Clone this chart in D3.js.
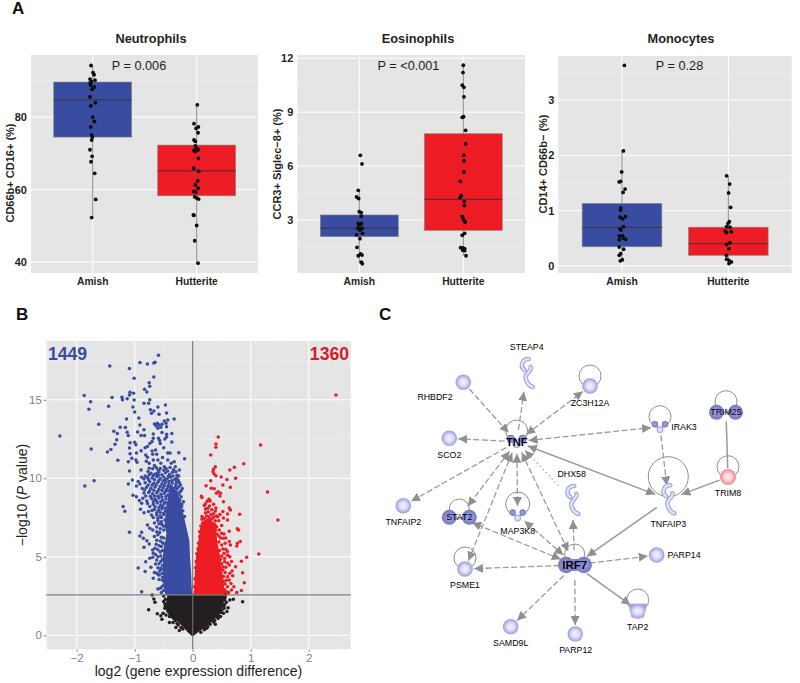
<!DOCTYPE html>
<html><head><meta charset="utf-8">
<script src="https://cdn.jsdelivr.net/npm/d3@7"></script>
<style>html,body{margin:0;padding:0;background:#fff}svg{display:block}text{font-family:"Liberation Sans",Arial,sans-serif}</style>
</head><body><svg id="c" width="800" height="683"></svg>
<script>
const groups = ["Amish","Hutterite"];
// [jitter in category units, percent]
const neutrophilsAmish = [[-.016,94.25],[.003,92.3],[.013,91.7],[-.026,90.5],[.022,90.2],[-.013,89.8],[-.026,89.4],[-.019,88.8],[.016,88.3],[-.006,87.7],[-.026,85.6],[.026,84],[-.019,83.1],[0,80],[.016,78.8],[-.019,77.3],[-.01,75.1],[-.003,74.5],[-.01,73.7],[-.026,71],[-.006,69.2],[-.016,67.7],[.019,64.5],[.029,57.3],[-.01,52.3]];
const neutrophilsHutterite = [[.006,83.4],[-.026,78.2],[.016,77.3],[-.006,76.9],[.013,75.7],[-.026,73.7],[-.013,73.3],[-.013,72.1],[0,71.4],[-.026,70.8],[.013,71],[-.013,70.5],[.016,68.6],[-.029,65.9],[.019,65.1],[.01,62.4],[-.013,61.3],[.013,60.4],[-.029,59.5],[-.01,59.3],[-.019,58],[0,57.7],[.019,57.4],[-.032,53],[-.026,52.9],[0,50.1],[-.019,45.9],[.013,39.7]];
const eosinophilsAmish = [[.01,6.6],[.026,6.12],[-.01,4.65],[-.026,4.28],[-.006,4.19],[0,3.46],[.019,3.41],[.019,3.22],[-.01,2.81],[.022,2.81],[0,2.72],[-.013,2.54],[.026,2.54],[.006,2.44],[.032,2.26],[-.026,2.17],[.006,1.96],[-.022,1.48],[-.01,1.01],[.013,1.11],[.026,1.05],[.019,.66],[.029,.57]];
const eosinophilsHutterite = [[0,11.61],[-.003,11.2],[-.01,10.5],[.006,10.38],[.006,9.85],[.003,8.75],[-.01,8.71],[.022,7.99],[.022,7.23],[.006,6.6],[.006,6.3],[.006,5.67],[-.029,5.15],[-.019,4.35],[-.032,4.24],[.01,4.04],[.01,3.8],[-.01,3.19],[0,3.06],[.013,2.93],[.019,2.89],[.013,2.26],[-.01,2.15],[-.026,1.46],[-.006,1.44],[.013,1.4],[-.006,1.33],[.013,1.29],[.026,1.01]];
const monocytesAmish = [[.022,3.63],[.013,2.08],[-.003,1.7],[-.026,1.52],[-.013,1.53],[.029,1.39],[.01,1.33],[-.013,1.05],[-.013,1.01],[.032,.89],[-.019,.88],[.006,.85],[.013,.71],[-.019,.67],[-.01,.65],[-.026,.54],[.006,.54],[.013,.5],[.035,.48],[-.026,.47],[-.026,.34],[.016,.3],[-.013,.22],[-.026,.19],[.003,.11],[-.016,.09]];
const monocytesHutterite = [[-.016,1.63],[.013,1.48],[.003,1.32],[.022,1.06],[.01,.8],[-.003,.77],[-.016,.71],[.016,.7],[-.029,.63],[.029,.62],[-.016,.6],[.016,.42],[-.016,.39],[.006,.31],[-.019,.19],[-.016,.12],[.006,.1],[.029,.07],[.006,.04]];
// [low whisker, q1, median, q3, high whisker]
const neutrophilsBoxes = [[52.3,74.5,84.8,89.7,94.25],[39.7,58.3,65.2,72.3,83.4]];
const eosinophilsBoxes = [[.57,2.07,2.54,3.28,4.65],[1.0,2.42,4.15,7.8,11.61]];
const monocytesBoxes = [[.09,.345,.695,1.13,2.08],[.04,.19,.40,.70,1.63]];
const neutrophilsTicks=[40,60,80], eosinophilsTicks=[3,6,9,12], monocytesTicks=[0,1,2,3];

// volcano: [log2 difference, -log10 P]
const downPoints = [[-.59,17.83],[-.91,17.37],[-.78,17.28],[-.67,17.35],[-.65,17.39],[-1.43,17.15],[-1.09,16.99],[-1.01,16.37],[-.67,16.45],[-.75,16.09],[-.74,15.86],[-.83,15.67],[-.79,15.5],[-1.08,15.48],[-1.02,15.41],[-1.09,15.31],[-1.87,15.27],[-1.76,14.88],[-1.79,14.4],[-1.45,14.59],[-1.39,15.14],[-1.22,15.16],[-1.21,15.01],[-1.13,15.07],[-1.01,14.99],[-.74,15.01],[-.76,14.78],[-.84,14.78],[-1.03,14.54],[-1,14.23],[-.6,14.54],[-.73,14.37],[-.67,14.29],[-.71,14.14],[-.47,14.67],[-.45,14.16],[-.58,14.08],[-1.14,13.78],[-.93,13.84],[-.32,13.78],[-.43,13.72],[-.49,13.65],[-1.62,13.44],[-1.25,13.25],[-1.16,13.23],[-.91,13.4],[-.84,13.1],[-.66,13.46],[-.61,13.5],[-.58,13.4],[-.53,13.44],[-.46,13.5],[-.45,13.29],[-.55,13.25],[-.63,13.33],[-.6,13.18],[-1.36,12.99],[-1.3,12.85],[-1.13,12.93],[-1.11,12.72],[-.95,12.95],[-.89,12.72],[-.83,12.72],[-.68,12.82],[-.53,12.91],[-.45,12.8],[-.36,12.85],[-2.29,12.7],[-1.31,12.46],[-1.34,12.17],[-1.08,12.27],[-1,12.29],[-.98,12.14],[-.7,12.34],[-.74,12.21],[-.68,12.55],[-.59,12.55],[-.57,12.4],[-.56,12.21],[-.48,12.51],[-.45,12.63],[-.36,12.31],[-.78,12.02],[-.82,11.95],[-1.75,11.87],[-1.41,11.83],[-1.47,11.68],[-1.09,11.93],[-1.08,11.57],[-.97,11.61],[-.89,11.76],[-.81,11.49],[-.7,11.74],[-.64,11.8],[-.69,11.53],[-.62,11.53],[-.5,11.95],[-.43,11.61],[-.39,11.61],[-.24,11.63],[-1.05,11.27],[-.98,11.17],[-.96,11.02],[-1.11,11.06],[-1.29,11.15],[-.14,11.25],[-.78,11.34],[-.8,11.08],[-.75,10.96],[-.89,10.53],[-1.09,10.47],[-.6,11.17],[-.52,11.32],[-.68,11.17],[-.43,11.17],[-.32,11.06],[-.37,10.96],[-.55,10.96],[-.66,10.81],[-.49,10.74],[-.39,10.68],[-.3,10.74],[-.6,10.53],[-.43,10.47],[-.75,10.64],[-.23,10.53],
[-1.70,9.85],[-1.86,9.51],[-1.04,9.89],[-1.11,9.64],[-1.03,8.92],[-.94,9.79],[-.97,9.51],[-.88,10.06],[-.82,10.15],[-.91,9.64],[-.97,8.83],[-.92,8.58],[-.86,8.73],[-.88,8.41],[-1.2,8.2],[-1.17,7.9],[-.9,8.03],[-.84,7.81],[-.76,7.88],[-.71,7.66],[-1.09,6.56],[-.88,6.56],[-.91,6.33],[-.78,7.03],[-.74,6.82],[-.69,6.71],[-.85,6.18],[-.79,6.03],[-.84,5.61],[-.75,5.82],[-.69,5.44],[-.65,5.54],[-.68,5.22],[-.81,4.69],[-.74,4.9],[-.69,4.97],[-.94,4.29],[-.82,4.06],[-.72,4.33],[-.64,4.54],[-.62,3.95],[-.68,3.63],[-.59,3.84],[-.53,3.1],[-.88,2.78],[-.49,3.42],[-.55,4.27],
[-.72,10.32],[-.65,10.28],[-.58,10.41],[-.53,10.22],[-.47,10.35],[-.4,10.25],[-.35,10.38],[-.27,10.2],[-.78,10.05],[-.7,10.02],[-.62,10.1],[-.56,9.98],[-.5,10.08],[-.44,9.95],[-.38,10.06],[-.31,9.92],[-.25,9.88],[-.82,9.72],[-.74,9.78],[-.67,9.69],[-.6,9.75],[-.53,9.66],[-.47,9.74],[-.41,9.62],[-.35,9.7],[-.29,9.6],[-.21,9.58],[-.8,9.41],[-.72,9.36],[-.65,9.45],[-.58,9.32],[-.51,9.4],[-.45,9.3],[-.39,9.38],[-.33,9.27],[-.27,9.33],[-.2,9.2],[-.84,9.06],[-.76,9.1],[-.69,9.01],[-.62,9.08],[-.55,8.98],[-.49,9.05],[-.42,8.95],[-.36,9.02],[-.3,8.92],[-.24,8.98],[-.71,8.72],[-.65,8.66],[-.58,8.75],[-.52,8.62],[-.46,8.7],[-.4,8.6],[-.34,8.68],[-.28,8.58],[-.22,8.64],[-.16,8.5],[-.78,8.4],[-.68,8.35],[-.61,8.42],[-.55,8.3],[-.49,8.38],[-.43,8.26],[-.37,8.34],[-.31,8.24],[-.25,8.3],[-.19,8.2],[-.66,8.02],[-.59,7.96],[-.53,8.05],[-.47,7.92],[-.41,8],[-.35,7.9],[-.29,7.98],[-.23,7.88],[-.17,7.94],[-.62,7.66],[-.56,7.6],[-.5,7.7],[-.44,7.56],[-.38,7.64],[-.32,7.54],[-.26,7.62],[-.2,7.52],[-.14,7.56],[-.6,7.3],[-.54,7.24],[-.48,7.34],[-.62,6.9],[-.56,6.78],[-.5,6.95],[-.6,6.4],[-.54,6.25],[-.52,5.9],[-.58,5.7],[-.56,5.3],[-.6,5],[-.55,4.7],[-.57,4.1],[-.52,3.7],
[-.77,10.44],[-.69,10.61],[-.63,10.68],[-.56,10.62],[-.5,10.51],[-.46,10.63],[-.33,10.55],[-.29,10.42],[-.24,10.15],[-.61,10.3],[-.68,10.18],[-.75,10.22],[-.84,9.95],[-.59,10.2],[-.51,9.85],[-.42,10.12],[-.34,10.14],[-.28,10],[-.76,9.9],[-.66,9.9],[-.58,9.88],[-.47,9.92],[-.41,9.8],[-.36,9.85],[-.28,9.76],[-.23,9.72],[-.87,9.35],[-.77,9.55],[-.7,9.58],[-.63,9.57],[-.56,9.5],[-.49,9.54],[-.43,9.48],[-.37,9.5],[-.3,9.44],[-.24,9.46],[-.18,9.35],[-.83,9.25],[-.74,9.2],[-.67,9.24],[-.6,9.18],[-.53,9.22],[-.47,9.16],[-.42,9.2],[-.35,9.16],[-.28,9.12],[-.22,9.12],[-.81,8.88],[-.73,8.85],[-.66,8.88],[-.6,8.85],[-.53,8.82],[-.46,8.86],[-.39,8.8],[-.33,8.85],[-.26,8.78],[-.2,8.82],[-.79,8.55],[-.68,8.5],[-.62,8.55],[-.55,8.5],[-.48,8.48],[-.43,8.45],[-.25,8.42],[-.19,8.35],[-.74,8.2],[-.65,8.18],[-.58,8.15],[-.52,8.2],[-.47,8.1],[-.7,7.95],[-.62,7.8],[-.56,7.82],[-.5,7.78],[-.68,7.5],[-.6,7.45],[-.54,7.5],[-.66,7.15],[-.58,7.1],[-.53,7.05],
[-.62,6.6],[-.57,6.55],[-.5,6.7],[-.66,6.3],[-.5,6.2],[-.62,6.05],[-.56,6],[-.5,5.85],[-.63,5.8],[-.54,5.65],[-.6,5.45],[-.52,5.4],[-.64,5.15],[-.55,5.05],[-.52,4.85],[-.62,4.8],[-.58,4.55],[-.52,4.45],[-.6,4.3],[-.54,4.2],[-.52,3.95],[-.57,3.85],[-.66,4],[-.52,3.5],[-.58,3.55],[-.5,3.2],[-.56,3],[-.5,2.85],[-.54,2.72],[-.6,2.95]];
const upPoints = [[2.47,15.3],[.44,12.63],[.4,12.19],[.4,11.97],[.31,11.49],[1.17,12.12],[.39,10.74],[.36,10.57],[.35,10.42],[.37,10.28],[.4,10.17],[.72,10.7],[.64,10.53],[.88,10.93],[.49,10.08],[.59,9.92],[.74,10],[.31,9.85],[.23,9.53],[.52,9.58],[.65,9.43],[.32,9.36],[.37,9.34],[.44,9.15],[.48,9.04],[.41,9.04],[.47,8.87],[1.29,9.13],[.15,8.85],[.16,8.77],[.53,8.51],[.28,8.66],[.25,8.54],[.3,8.56],[.22,8.37],[.2,8.28],[.29,8.24],[.4,8.11],[.63,8.11],[.65,7.98],[.52,7.88],[.39,7.92],[.6,7.73],[.81,7.71],[.41,7.6],[.53,7.47],[.16,7.56],[.16,7.39],[1.47,7.35],[.6,7.35],[.36,7.52],[.3,7.39],[.25,7.35],[.39,7.3],[.21,7.24],[.34,7.13],[.14,6.96],[.21,7.03],[.41,6.92],[.77,6.79],[.79,6.71],[.5,6.5],[.54,6.45],[.63,6.62],[.45,6.33],[.82,5.97],[.77,5.86],[.76,5.69],[.63,5.97],[.53,6.18],[.56,5.86],[.1,5.86],[.65,5.75],[.6,5.33],[1.14,5.18],[.93,4.97],[.84,4.71],[.64,5.01],[.57,5.48],[.74,4.37],[.63,4.48],[.57,4.33],[.86,3.99],[.69,3.8],[.63,3.52],[.89,3.35],[.71,3.1],[.84,2.85],[.67,2.89],[.6,3.1],[.56,3.27],[.53,3.74],[.64,3.95],[.52,4.16],[.55,4.69],[.5,5.05],[.54,5.22],[.58,2.78],[.76,2.72],
[.48,3],[.55,2.9],[.62,2.72],[.5,3.3],[.58,3.5],[.66,3.3],[.53,3.45],[.6,3.75],[.68,4.1],[.56,4],[.52,4.35],[.6,4.6],[.67,4.7],[.5,4.55],[.55,4.9],[.6,5.1],[.48,4.85],[.52,5.5],[.46,5.4],[.5,5.75],[.45,5.95],[.48,6.2],[.57,6.2],[.42,6.45],[.46,6.7],[.4,6.7],[.38,7.05],[.33,7.4],[.28,7.55],[.24,7.6],[.2,7.45],[.32,7.7],[.27,7.85],[.36,7.75],[.22,7.8],[.45,7.3],[.5,7],[.43,7.55],[.33,8],[.26,8.1],[.22,8.05],[.36,8.35],[.47,7.7],[.12,6.3],[.09,5.5],[.07,5.2],[.06,4.7],[.05,4.3],[.04,3.6],[.03,3.1],[.12,6.6],[.17,7.15],[.13,6.1]];
const nsPoints = [[-.7,2.57],[-.67,2.31],[-.65,2.1],[-.76,1.63],[-.61,1.38],[-.55,1.25],[-.53,1.02],[-.51,1.4],[-.46,1.3],[-.42,1.51],[-.4,.81],[-.34,.81],[-.29,.49],[-.23,.3],[-.48,1.72],[-.44,1.97],[-.4,1.19],[-.33,1.08],[.56,2.57],[.64,2.25],[.7,2.29],[.86,2.14],[.61,1.76],[.59,1.51],[.54,1.72],[.53,1.4],[.48,1.19],[.44,1.08],[.39,.7],[.24,.45],[.5,2.04],[.55,2.25],[.46,1.51],
[-.5,2.5],[-.47,2.3],[-.5,2.15],[-.48,2],[-.47,1.85],[-.44,1.75],[-.43,1.6],[-.4,1.45],[-.39,1.33],[-.36,1.2],[-.34,1.25],[-.3,.95],[-.27,.75],[-.25,.65],[-.2,.5],[-.17,.4],[.56,2.4],[.58,2.1],[.55,1.95],[.53,1.85],[.5,1.6],[.48,1.45],[.44,1.3],[.42,1.15],[.38,.95],[.36,.85],[.3,.7],[.26,.55],[.2,.35],[.14,.2]];
// dense cores of the volcano, traced as [-log10 P, left edge, right edge]
const downCore = [[2.6,-.46,-.02],[3,-.48,-.03],[4,-.5,-.04],[5,-.5,-.06],[5.5,-.49,-.065],[6,-.46,-.07],[6.5,-.44,-.1],[7,-.47,-.13],[7.5,-.46,-.16],[8,-.44,-.19],[8.5,-.42,-.22],[9,-.4,-.28],[9.4,-.37,-.32]];
const upCore = [[2.6,.03,.61],[3,.04,.53],[4,.05,.5],[5,.07,.46],[6,.115,.41],[6.8,.14,.385],[7.3,.21,.31]];
const nsCore = [[0,-.01,.01],[.25,-.08,.09],[.5,-.14,.2],[1,-.28,.36],[1.5,-.4,.46],[2,-.45,.52],[2.6,-.42,.53]];
const volcanoXTicks=[-2,-1,0,1,2], volcanoYTicks=[0,5,10,15];
const volcanoCounts=["1449","1360"];
const pCut=2.57;

// network
const geneNames=["RHBDF2","STEAP4","ZC3H12A","TNF","SCO2","TNFAIP2","STAT2","MAP3K8","IRF7","DHX58","PSME1","SAMD9L","PARP12","TAP2","PARP14","TNFAIP3","IRAK3","TRIM25","TRIM8"];
// layout: gene -> [node x, node y, label x, label y, shape, trim]
const geneLayout={RHBDF2:[463.3,382.3,435,396.7,"ball",8],STEAP4:[526.7,373,526.7,347,"crescent",18],ZC3H12A:[590,386,590,402.7,"ball",8],TNF:[516.7,441.7,516.7,441.7,"tnf",11],SCO2:[449.3,438.3,449.3,455,"ball",8],TNFAIP2:[403.3,505.7,403.3,522,"ball",8],STAT2:[459.3,517.3,459.3,517.3,"pair",13],MAP3K8:[517.7,515,517.7,530.7,"tri",8],IRF7:[574.7,565,574.7,565,"pair2",14],DHX58:[572.3,500,571.7,473.7,"crescent",19],PSME1:[465,569,465,585.3,"ball",8],SAMD9L:[510.7,626.7,510.7,643.3,"ball",8],PARP12:[575.3,634,575.7,650.3,"ball",8],TAP2:[637.7,610,637.7,626.7,"cup",8],PARP14:[656.7,555,684,554.7,"ball",8],TNFAIP3:[668.3,499.3,668.3,524,"crescent",13],IRAK3:[660,426.7,684,427.3,"tri",8],TRIM25:[726,412.3,726,412.3,"pair",8],TRIM8:[728,477,728,493.3,"pink",8]};
// self loops: gene -> [centre x, centre y, radius]
const geneLoops={ZC3H12A:[590,376,11],TNF:[516.7,431,11],STAT2:[459.3,509,10],MAP3K8:[517.7,504,12],IRF7:[574.7,554,10],PSME1:[465,558,11],TAP2:[637.7,600,11],TNFAIP3:[668.3,476.7,20],IRAK3:[660,416.7,11],TRIM25:[726,401.7,11],TRIM8:[728,466.7,11]};
// [from, to, style, arrow at from, arrow at to]
const geneEdges=[["RHBDF2","TNF","d",0,1],["TNF","STEAP4","d",0,1],["TNF","ZC3H12A","d",1,1],["TNF","SCO2","d",0,1],["TNF","TNFAIP2","d",0,1],["TNF","IRAK3","d",1,1],["TNF","STAT2","d",1,1],["TNF","PSME1","d",1,1],["TNF","MAP3K8","d",1,1],["TNF","IRF7","d",1,1],["DHX58","TNF","o",0,1],["TNFAIP3","TNF","s",1,1],["IRAK3","TNFAIP3","d",0,1],["TRIM8","TNFAIP3","s",0,1],["TRIM25","TRIM8","s",0,0],["TNFAIP3","IRF7","s",0,1],["IRF7","DHX58","d",0,1],["IRF7","PARP14","d",0,1],["IRF7","TAP2","s",0,1],["IRF7","PARP12","d",0,1],["IRF7","SAMD9L","d",0,1],["IRF7","PSME1","d",0,1],["IRF7","STAT2","d",1,1],["IRF7","MAP3K8","d",1,1]];

const svg=d3.select("#c");
const BLUE="#3a4ba2",RED="#ed1c24",INK="#231f20",PANEL="#e5e5e5";
const defs=svg.append("defs");
function grad(id,stops){const g=defs.append("radialGradient").attr("id",id);stops.forEach(s=>g.append("stop").attr("offset",s[0]).attr("stop-color",s[1]));}
grad("ball",[[0,"#f2f2ff"],[.45,"#e0e1fa"],[.8,"#b2b4ea"],[1,"#9b9ddc"]]);
grad("lobe",[[0,"#a6a8e2"],[.7,"#8487cf"],[1,"#7275bd"]]);
grad("pinkb",[[0,"#fff4f4"],[.45,"#fbd5d8"],[.8,"#f4a0aa"],[1,"#ee8a96"]]);
const arr=defs.append("marker").attr("id","ah").attr("markerUnits","userSpaceOnUse").attr("markerWidth",10).attr("markerHeight",9).attr("refX",9).attr("refY",4.5).attr("orient","auto-start-reverse");
arr.append("path").attr("d","M0,0L9,4.5L0,9Z").attr("fill","#909090");

function boxPanel(o){
  const y=d3.scaleLinear().domain(o.yDomain).range([o.top+o.h,o.top]);
  const x=d3.scaleLinear().domain([0,1]).range([o.cx[0],o.cx[1]]); // category index -> px
  const g=svg.append("g");
  g.append("rect").attr("x",o.left).attr("y",o.top).attr("width",o.w).attr("height",o.h).attr("fill",PANEL);
  const minor=d3.pairs(o.ticks).map(p=>(p[0]+p[1])/2);
  const step=o.ticks[1]-o.ticks[0];
  minor.push(o.ticks[0]-step/2,o.ticks[o.ticks.length-1]+step/2);
  minor.filter(v=>y(v)>o.top&&y(v)<o.top+o.h).forEach(v=>g.append("line").attr("x1",o.left).attr("x2",o.left+o.w).attr("y1",y(v)).attr("y2",y(v)).attr("stroke","#f2f2f2").attr("stroke-width",.5));
  o.ticks.filter(v=>y(v)>=o.top).forEach(v=>g.append("line").attr("x1",o.left).attr("x2",o.left+o.w).attr("y1",y(v)).attr("y2",y(v)).attr("stroke","#fff").attr("stroke-width",1));
  groups.forEach((c,i)=>g.append("line").attr("x1",x(i)).attr("x2",x(i)).attr("y1",o.top).attr("y2",o.top+o.h).attr("stroke","#fff").attr("stroke-width",1));
  const halfW=(o.cx[1]-o.cx[0])*.375;
  o.boxes.forEach((b,i)=>{
    g.append("line").attr("x1",x(i)).attr("x2",x(i)).attr("y1",y(b[0])).attr("y2",y(b[4])).attr("stroke","#8a8a8a").attr("stroke-width",1);
    g.append("rect").attr("x",x(i)-halfW).attr("width",2*halfW).attr("y",y(b[3])).attr("height",y(b[1])-y(b[3])).attr("fill",i?RED:BLUE).attr("stroke","#8a8a8a").attr("stroke-width",.6);
    g.append("line").attr("x1",x(i)-halfW).attr("x2",x(i)+halfW).attr("y1",y(b[2])).attr("y2",y(b[2])).attr("stroke","#3a3436").attr("stroke-width",1);
  });
  o.pts.forEach((arr,i)=>g.selectAll(null).data(arr).join("circle").attr("cx",d=>x(i+d[0])).attr("cy",d=>y(d[1])).attr("r",1.9).attr("fill","#0c0c0c"));
  const yAxis=d3.axisLeft(y).tickValues(o.ticks).tickSize(0).tickPadding(4).tickFormat(d3.format("d"));
  const ga=g.append("g").attr("transform",`translate(${o.left},0)`).call(yAxis);
  ga.select(".domain").remove();
  ga.selectAll("text").attr("font-size",11).attr("font-weight","bold").attr("fill",INK).style("font-family",'"Liberation Sans",Arial,sans-serif');
  groups.forEach((c,i)=>g.append("text").attr("x",x(i)).attr("y",o.top+o.h+12).attr("text-anchor","middle").attr("font-size",10.3).attr("font-weight","bold").attr("fill",INK).text(c));
  g.append("text").attr("x",o.titleX).attr("y",43).attr("text-anchor","middle").attr("font-size",12.8).attr("font-weight","bold").attr("fill",INK).text(o.title);
  g.append("text").attr("x",o.pX).attr("y",69.5).attr("text-anchor","middle").attr("font-size",12.7).attr("fill",INK).text(o.p);
  g.append("text").attr("transform",`translate(${o.yTitleX},${o.yTitleY}) rotate(-90)`).attr("text-anchor","middle").attr("font-size",o.yTitleSize).attr("font-weight","bold").attr("fill",INK).text(o.yTitle);
}
boxPanel({left:31,top:55,w:227,h:218,cx:[92.7,196.7],yDomain:[37,97.15],ticks:neutrophilsTicks,boxes:neutrophilsBoxes,pts:[neutrophilsAmish,neutrophilsHutterite],title:"Neutrophils",titleX:151,p:"P = 0.006",pX:139,yTitle:"CD66b+ CD16+ (%)",yTitleX:14,yTitleY:173,yTitleSize:11});
boxPanel({left:297.3,top:55,w:227.7,h:218,cx:[359.3,463.3],yDomain:[.05,12.18],ticks:eosinophilsTicks,boxes:eosinophilsBoxes,pts:[eosinophilsAmish,eosinophilsHutterite],title:"Eosinophils",titleX:418,p:"P = <0.001",pX:408.5,yTitle:"CCR3+ Siglec\u22128+ (%)",yTitleX:281,yTitleY:164,yTitleSize:11});
boxPanel({left:558.3,top:56,w:233.4,h:217,cx:[622,728.3],yDomain:[-.13,3.8],ticks:monocytesTicks,boxes:monocytesBoxes,pts:[monocytesAmish,monocytesHutterite],title:"Monocytes",titleX:681,p:"P = 0.28",pX:679.5,yTitle:"CD14+ CD66b\u2212 (%)",yTitleX:547,yTitleY:164,yTitleSize:11});

// panel letters
[["A",12,13.5],["B",16,320],["C",379,320]].forEach(d=>svg.append("text").attr("x",d[1]).attr("y",d[2]).attr("font-size",17).attr("font-weight","bold").attr("fill","#111").text(d[0]));

// volcano
(function(){
  const L=46.3,R=350.7,T=341,B=649.3;
  const x=d3.scaleLinear().domain([(L-192.7)/58,(R-192.7)/58]).range([L,R]);
  const y=d3.scaleLinear().domain([(635.3-B)/15.7,(635.3-T)/15.7]).range([B,T]);
  const g=svg.append("g");
  g.append("rect").attr("x",L).attr("y",T).attr("width",R-L).attr("height",B-T).attr("fill",PANEL);
  const xm=[-2.5,-1.5,-.5,.5,1.5,2.5],ym=[2.5,7.5,12.5,17.5];
  xm.forEach(v=>g.append("line").attr("x1",x(v)).attr("x2",x(v)).attr("y1",T).attr("y2",B).attr("stroke","#f2f2f2").attr("stroke-width",.5));
  ym.forEach(v=>g.append("line").attr("x1",L).attr("x2",R).attr("y1",y(v)).attr("y2",y(v)).attr("stroke","#f2f2f2").attr("stroke-width",.5));
  volcanoXTicks.forEach(v=>g.append("line").attr("x1",x(v)).attr("x2",x(v)).attr("y1",T).attr("y2",B).attr("stroke","#fff").attr("stroke-width",1));
  volcanoYTicks.forEach(v=>g.append("line").attr("x1",L).attr("x2",R).attr("y1",y(v)).attr("y2",y(v)).attr("stroke","#fff").attr("stroke-width",1));
  const area=d3.area().x0(d=>x(d[1])).x1(d=>x(d[2])).y(d=>y(d[0]));
  [[nsCore,INK],[downCore,BLUE],[upCore,RED]].forEach(c=>g.append("path").attr("d",area(c[0])).attr("fill",c[1]).attr("stroke",c[1]).attr("stroke-width",1.5));
  [[nsPoints,INK],[downPoints,BLUE],[upPoints,RED]].forEach(c=>g.selectAll(null).data(c[0]).join("circle").attr("cx",d=>x(d[0])).attr("cy",d=>y(d[1])).attr("r",1.75).attr("fill",c[1]));
  g.append("line").attr("x1",x(0)).attr("x2",x(0)).attr("y1",T).attr("y2",B).attr("stroke","#6e6e6e").attr("stroke-width",1.1);
  g.append("line").attr("x1",L).attr("x2",R).attr("y1",y(pCut)).attr("y2",y(pCut)).attr("stroke","#7c7c7c").attr("stroke-width",1.2);
  const ax=g.append("g").attr("transform",`translate(0,${B})`).call(d3.axisBottom(x).tickValues(volcanoXTicks).tickSize(2.5).tickPadding(2).tickFormat(d=>String(d).replace("-","\u2212")));
  const ay=g.append("g").attr("transform",`translate(${L},0)`).call(d3.axisLeft(y).tickValues(volcanoYTicks).tickSize(2.5).tickPadding(2));
  [ax,ay].forEach(a=>{a.select(".domain").remove();a.selectAll("line").attr("stroke","#7f7f7f");a.selectAll("text").attr("font-size",11.5).attr("fill","#7f7f7f").style("font-family",'"Liberation Sans",Arial,sans-serif');});
  g.append("text").attr("x",198.5).attr("y",675.5).attr("text-anchor","middle").attr("font-size",14).attr("fill",INK).text("log2 (gene expression difference)");
  const t=g.append("text").attr("transform","translate(27,495) rotate(-90)").attr("text-anchor","middle").attr("font-size",14).attr("fill",INK);
  t.append("tspan").text("\u2212log10 (");t.append("tspan").attr("font-style","italic").text("P");t.append("tspan").text(" value)");
  g.append("text").attr("x",48).attr("y",360).attr("font-size",17.6).attr("font-weight","bold").attr("fill",BLUE).text(volcanoCounts[0]);
  g.append("text").attr("x",349).attr("y",360).attr("text-anchor","end").attr("font-size",17.6).attr("font-weight","bold").attr("fill","#d0202c").text(volcanoCounts[1]);
})();

// network
(function(){
  const sx=d3.scaleIdentity(),sy=d3.scaleIdentity();
  const g=svg.append("g");
  const pos=n=>geneLayout[n];
  Object.entries(geneLoops).forEach(([n,l])=>g.append("circle").attr("cx",sx(l[0])).attr("cy",sy(l[1])).attr("r",l[2]).attr("fill","none").attr("stroke","#8f8f8f").attr("stroke-width",1));
  geneEdges.forEach(e=>{
    const a=pos(e[0]),b=pos(e[1]);
    const dx=b[0]-a[0],dy=b[1]-a[1],len=Math.hypot(dx,dy);
    const ta=a[5]+1,tb=b[5]+1;
    const line=g.append("line").attr("x1",sx(a[0]+dx/len*ta)).attr("y1",sy(a[1]+dy/len*ta)).attr("x2",sx(b[0]-dx/len*tb)).attr("y2",sy(b[1]-dy/len*tb))
      .attr("stroke",e[2]==="o"?"#a0a0a0":"#9a9a9a").attr("stroke-width",e[2]==="s"?1.5:1.3);
    if(e[2]==="d")line.attr("stroke-dasharray","6 2.5");
    if(e[2]==="o")line.attr("stroke-dasharray","1.3 3");
    if(e[3])line.attr("marker-start","url(#ah)");
    if(e[4])line.attr("marker-end","url(#ah)");
  });
  function ball(x,y,r,fill){g.append("circle").attr("cx",x).attr("cy",y).attr("r",r).attr("fill",`url(#${fill})`);}
  geneNames.forEach(n=>{
    const p=pos(n),x=sx(p[0]),y=sy(p[1]),s=p[4];
    if(s==="ball")ball(x,y,7.8,"ball");
    if(s==="pink")ball(x,y,8,"pinkb");
    if(s==="pair"){const o=n==="TRIM25"?9.5:10;ball(x-o,y,7.5,"lobe");ball(x+o,y,7.5,"lobe");}
    if(s==="pair2"){ball(x-8.5,y,8.2,"lobe");ball(x+9,y,8.2,"lobe");g.append("rect").attr("x",x-8).attr("y",y-6).attr("width",16).attr("height",12).attr("fill","#8487cf");}
    if(s==="tnf"){ball(x-6,y-3,4,"lobe");ball(x+6,y-3,4,"lobe");ball(x,y+2,4.5,"ball");}
    if(s==="tri"){ball(x-5,y-2.5,3.2,"lobe");ball(x+5,y-2.5,3.2,"lobe");ball(x,y+3,3.4,"ball");}
    if(s==="cup"){g.append("path").attr("d",`M${x-9},${y-6}L${x+9},${y-6}L${x+6},${y+7}Q${x},${y+10} ${x-6},${y+7}Z`).attr("fill","url(#ball)").attr("stroke","#b2b4ea");}
    if(s==="crescent"){
      const c=g.append("g").attr("transform",`translate(${x},${y})`).attr("fill","none").attr("stroke-linecap","round");
      [[4.6,"#a5a9e4"],[2,"#e6e7fb"]].forEach(w=>{
        c.append("path").attr("d","M2,-14C-5,-14 -7,-6 -2,-3").attr("stroke",w[1]).attr("stroke-width",w[0]);
        c.append("path").attr("d","M4,-6C6,-2 -2,0 -1,5C0,10 3,13 6,14").attr("stroke",w[1]).attr("stroke-width",w[0]);
      });
    }
    const big=(n==="TNF"||n==="IRF7");
    g.append("text").attr("x",p[2]).attr("y",p[3]+(big?4:3)).attr("text-anchor","middle").attr("font-size",n==="TNF"?11:n==="IRF7"?11.5:8.8).attr("font-weight",big?"bold":"normal").attr("fill","#000").text(n);
  });
})();
</script></body></html>
